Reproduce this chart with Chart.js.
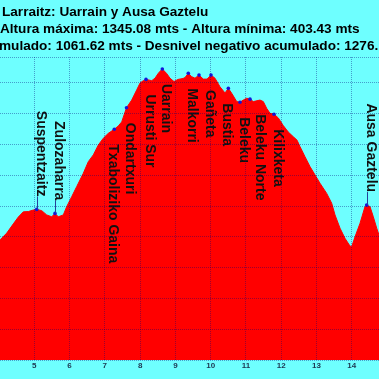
<!DOCTYPE html>
<html>
<head>
<meta charset="utf-8">
<script src="https://cdn.jsdelivr.net/npm/chart.js@4/dist/chart.umd.min.js"></script>
<style>
html,body{margin:0;padding:0;background:#6EFFFF;overflow:hidden;}
#wrap{width:379px;height:379px;}
canvas{display:block;}
</style>
</head>
<body>
<div id="wrap"><canvas id="c" width="379" height="379"></canvas></div>
<script>
const titleLines = [
  "Larraitz: Uarrain y Ausa Gaztelu",
  "Altura máxima: 1345.08 mts - Altura mínima: 403.43 mts",
  "mulado: 1061.62 mts - Desnivel negativo acumulado: 1276."
];

const distanceKm = [3.95, 4.028, 4.218, 4.405, 4.546, 4.688, 4.830, 4.972, 5.068, 5.210, 5.352, 5.493, 5.587, 5.680, 5.822, 5.919, 6.060, 6.202, 6.389, 6.531, 6.673, 6.815, 6.956, 7.098, 7.268, 7.382, 7.478, 7.614, 7.762, 7.903, 7.997, 8.091, 8.167, 8.329, 8.422, 8.516, 8.629, 8.754, 8.848, 8.961, 9.074, 9.216, 9.273, 9.366, 9.463, 9.556, 9.670, 9.792, 9.897, 10.010, 10.123, 10.265, 10.407, 10.501, 10.597, 10.739, 10.832, 10.926, 11.022, 11.116, 11.209, 11.399, 11.493, 11.589, 11.683, 11.796, 11.918, 12.060, 12.202, 12.343, 12.448, 12.533, 12.675, 12.817, 12.959, 13.100, 13.290, 13.432, 13.526, 13.668, 13.809, 13.951, 13.999, 14.093, 14.235, 14.376, 14.424, 14.518, 14.612, 14.708, 14.773, 14.85];
const elevationM = [770, 790, 812, 842, 864, 881, 882, 887, 889, 885, 871, 865, 876, 865, 871, 898, 930, 963, 1006, 1044, 1066, 1098, 1120, 1136, 1149, 1160, 1173, 1219, 1244, 1277, 1299, 1307, 1311, 1307, 1315, 1331, 1345.08, 1330, 1315, 1304, 1311, 1314, 1317, 1331, 1320, 1315, 1325, 1312, 1312, 1325, 1315, 1287, 1267, 1282, 1266, 1239, 1237, 1244, 1250, 1247, 1239, 1244, 1239, 1217, 1201, 1198, 1186, 1161, 1140, 1125, 1114, 1093, 1060, 1028, 1001, 974, 941, 909, 871, 828, 795, 770, 768, 800, 844, 898, 903, 898, 865, 828, 806, 780];

const xTickValues = [5, 6, 7, 8, 9, 10, 11, 12, 13, 14];
const yTickValues = [400, 500, 600, 700, 800, 900, 1000, 1100, 1200, 1300];

const waypointNames = ["Suspentzaitz", "Zulozaharra", "Txaboliziko Gaina", "Ondartxuri", "Urrusti Sur", "Uarrain", "Malkorri", "", "Gañeta", "Bustia", "Beleku", "Beleku Norte", "Kilixketa", "Ausa Gaztelu"];
const waypointKm = [5.068, 5.587, 7.268, 7.614, 8.167, 8.629, 9.366, 9.670, 10.010, 10.501, 10.832, 11.116, 11.796, 14.424];
const waypointElev = [889, 876, 1149, 1219, 1311, 1345.08, 1331, 1325, 1325, 1282, 1237, 1247, 1198, 903];
const waypointLabelSide = ["up", "up", "down", "down", "down", "down", "down", "down", "down", "down", "down", "down", "down", "up"];
const waypointLabelShift = [0, 0, -5, 0, 0, 0, 0, 0, -5, -5, 0, 6, 0, 0];

const profilePoints = distanceKm.map((k, i) => ({ x: k, y: elevationM[i] }));
const waypointPoints = waypointKm.map((k, i) => ({ x: k, y: waypointElev[i] }));

const FONT = '"Liberation Sans", Arial, sans-serif';

const titlePlugin = {
  id: 'titleLines',
  afterDraw(chart) {
    const ctx = chart.ctx;
    ctx.save();
    ctx.font = 'bold 13.6px ' + FONT;
    ctx.fillStyle = '#000';
    ctx.textBaseline = 'alphabetic';
    ctx.textAlign = 'left';
    const xs = [2, 0, -1];
    titleLines.forEach((t, i) => ctx.fillText(t, xs[i], 15.5 + i * 17.3));
    ctx.restore();
  }
};

const labelPlugin = {
  id: 'waypointLabels',
  afterDatasetsDraw(chart) {
    const ctx = chart.ctx;
    const meta = chart.getDatasetMeta(1);
    ctx.save();
    ctx.font = 'bold 14px ' + FONT;
    ctx.fillStyle = '#111';
    meta.data.forEach((pt, i) => {
      const name = waypointNames[i];
      if (!name) return;
      const w = ctx.measureText(name).width;
      const bx = pt.x + waypointLabelShift[i];
      let ty;
      if (waypointLabelSide[i] === 'up') {
        ty = pt.y - 13 - w;
        ctx.save();
        ctx.strokeStyle = '#24409a';
        ctx.lineWidth = 1;
        ctx.beginPath();
        ctx.moveTo(Math.round(pt.x) + 0.5, pt.y);
        ctx.lineTo(Math.round(pt.x) + 0.5, pt.y - 13);
        ctx.stroke();
        ctx.restore();
      } else {
        ty = pt.y + 15;
      }
      ctx.save();
      ctx.translate(bx, ty);
      ctx.rotate(Math.PI / 2);
      ctx.textAlign = 'left';
      ctx.textBaseline = 'alphabetic';
      ctx.fillText(name, 0, 0);
      ctx.restore();
    });
    ctx.restore();
  }
};

const gridColor = 'rgba(0,0,120,0.38)';

new Chart(document.getElementById('c'), {
  type: 'line',
  data: {
    datasets: [
      {
        data: profilePoints,
        fill: 'start',
        backgroundColor: '#FF0000',
        borderColor: '#FF0000',
        borderWidth: 1,
        pointRadius: 0,
        pointHoverRadius: 0,
        tension: 0,
        order: 2
      },
      {
        type: 'scatter',
        data: waypointPoints,
        pointRadius: 1.8,
        pointHoverRadius: 1.8,
        pointBackgroundColor: '#1414D8',
        pointBorderColor: '#1414D8',
        pointBorderWidth: 0,
        showLine: false,
        order: 1
      }
    ]
  },
  options: {
    responsive: false,
    animation: false,
    events: [],
    layout: { autoPadding: false, padding: { top: 57, left: 0, right: 0, bottom: 0 } },
    plugins: {
      legend: { display: false },
      tooltip: { enabled: false },
      title: { display: false }
    },
    scales: {
      x: {
        type: 'linear',
        min: 4.0275,
        max: 14.773,
        afterBuildTicks: (s) => { s.ticks = xTickValues.map(v => ({ value: v })); },
        ticks: {
          font: { size: 8, weight: 'bold', family: FONT },
          color: '#1d3550',
          padding: 1,
          maxRotation: 0,
          autoSkip: false
        },
        grid: { color: gridColor, drawTicks: false, lineWidth: 1, z: 1 },
        border: { display: false, dash: [1, 1] },
        afterFit: (s) => { s.height = 19; }
      },
      y: {
        type: 'linear',
        min: 400,
        max: 1383.8,
        afterBuildTicks: (s) => { s.ticks = yTickValues.concat([s.max]).map(v => ({ value: v })); },
        ticks: { display: false },
        grid: { color: gridColor, drawTicks: false, lineWidth: 1, z: 1 },
        border: { display: false, dash: [1, 1] },
        afterFit: (s) => { s.width = 0; }
      }
    }
  },
  plugins: [titlePlugin, labelPlugin]
});
</script>
</body>
</html>
